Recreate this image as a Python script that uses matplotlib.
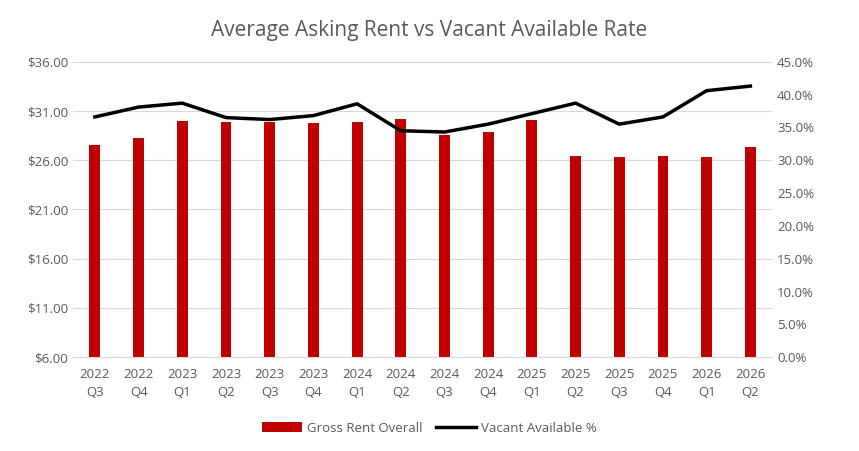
import matplotlib
matplotlib.use("Agg")
import matplotlib.pyplot as plt
from matplotlib.ticker import FuncFormatter

quarters = ["2022\nQ3","2022\nQ4","2023\nQ1","2023\nQ2","2023\nQ3","2023\nQ4","2024\nQ1","2024\nQ2",
            "2024\nQ3","2024\nQ4","2025\nQ1","2025\nQ2","2025\nQ3","2025\nQ4","2026\nQ1","2026\nQ2"]
rent = [27.6,28.3,30.0,29.9,29.9,29.8,29.9,30.2,28.6,28.9,30.1,26.4,26.3,26.4,26.3,27.3]
vacancy = [36.6,38.1,38.7,36.5,36.2,36.8,38.6,34.5,34.3,35.5,37.1,38.7,35.5,36.6,40.6,41.3]

plt.rcParams['font.family'] = ['Open Sans', 'DejaVu Sans']
fig = plt.figure(figsize=(8.59,4.51), dpi=100)
ax = fig.add_axes([0.085, 0.208, 0.814, 0.655])
x = list(range(len(quarters)))
ax.bar(x, [r-6 for r in rent], bottom=6, width=0.25, color='#c00000', label='Gross Rent Overall', zorder=2)
ax.set_ylim(6,36)
ax.set_yticks([6,11,16,21,26,31,36])
ax.yaxis.set_major_formatter(FuncFormatter(lambda v,p: f"${v:.2f}"))
ax.set_xlim(-0.5, len(quarters)-0.5)
ax.set_xticks(x)
ax.set_xticklabels(quarters, linespacing=1.5)
ax.grid(axis='y', color='#d9d9d9', lw=0.8, zorder=0)
ax.tick_params(length=0, colors='#595959', labelsize=9.5)
ax.tick_params(axis='x', pad=8)
for s in ax.spines.values(): s.set_visible(False)
ax.spines['bottom'].set_visible(True); ax.spines['bottom'].set_color('#d9d9d9')

ax2 = ax.twinx()
ax2.plot(x, vacancy, color='black', lw=2.5, label='Vacant Available %', zorder=3)
ax2.set_ylim(0,45)
ax2.set_yticks(range(0,50,5))
ax2.yaxis.set_major_formatter(FuncFormatter(lambda v,p: f"{v:.1f}%"))
ax2.tick_params(length=0, colors='#595959', labelsize=9.5)
for s in ax2.spines.values(): s.set_visible(False)

fig.suptitle("Average Asking Rent vs Vacant Available Rate", y=0.955, fontsize=15, color='#595959')
h1,l1 = ax.get_legend_handles_labels(); h2,l2 = ax2.get_legend_handles_labels()
fig.legend(h1+h2, l1+l2, loc='lower center', bbox_to_anchor=(0.5,0.01), ncol=2, frameon=False,
           fontsize=9.5, labelcolor='#595959', handlelength=3.0, columnspacing=1.0, handletextpad=0.4)
fig.savefig("out.png", dpi=100)
